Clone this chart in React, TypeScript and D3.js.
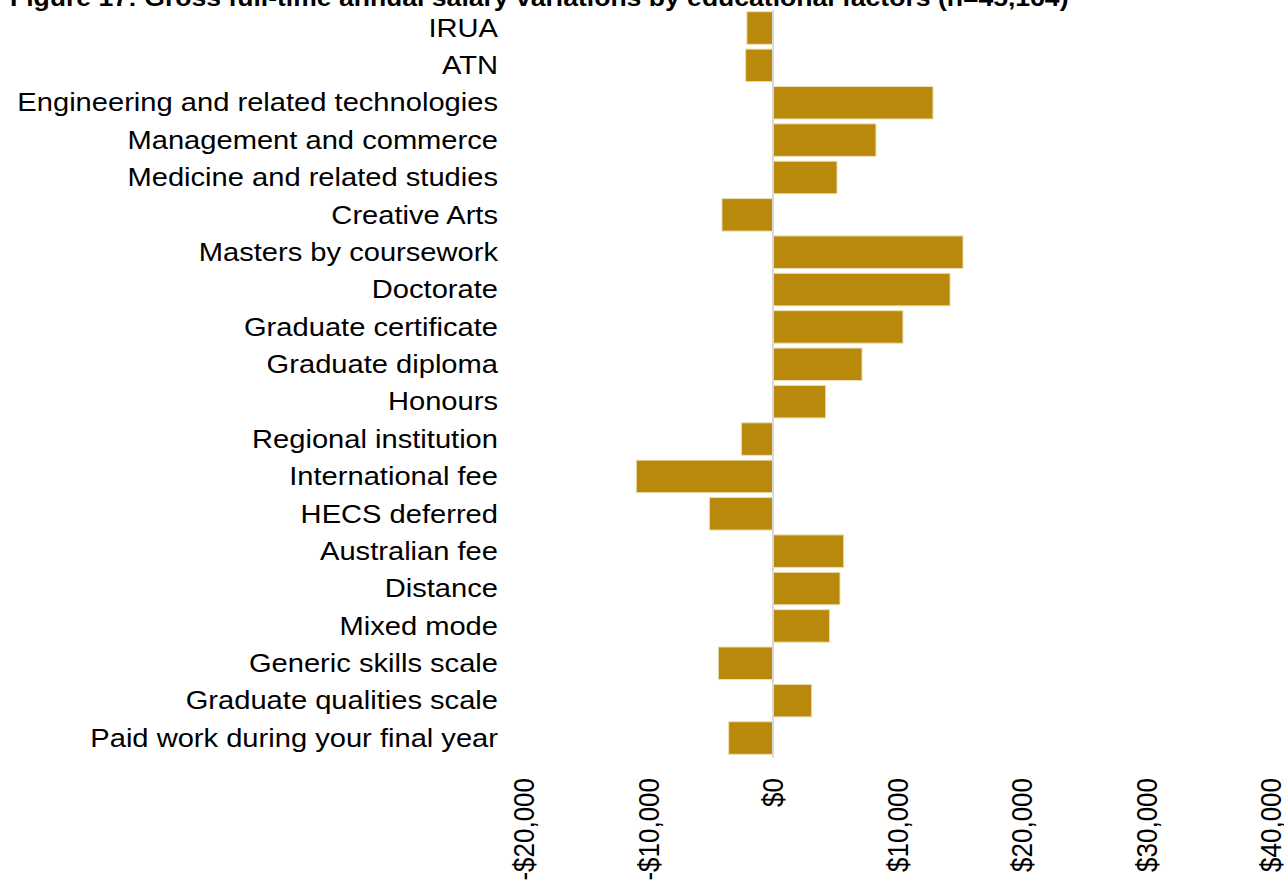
import React from "react";
import * as d3 from "d3";

const categories = [
  "IRUA",
  "ATN",
  "Engineering and related technologies",
  "Management and commerce",
  "Medicine and related studies",
  "Creative Arts",
  "Masters by coursework",
  "Doctorate",
  "Graduate certificate",
  "Graduate diploma",
  "Honours",
  "Regional institution",
  "International fee",
  "HECS deferred",
  "Australian fee",
  "Distance",
  "Mixed mode",
  "Generic skills scale",
  "Graduate qualities scale",
  "Paid work during your final year",
];

const salaryVariation = [
  -2100, -2200, 12850, 8270, 5140, -4100, 15260, 14220, 10440, 7150,
  4230, -2540, -10980, -5110, 5680, 5380, 4550, -4390, 3110, -3560,
];

const tickValues = [-20000, -10000, 0, 10000, 20000, 30000, 40000];

const title =
  "Figure 17: Gross full-time annual salary variations by educational factors (n=45,164)";

const W = 1284;
const H = 886;
const SX = 1.14;
const SX_LABEL = 1.165;

export default function App() {
  const x = d3.scaleLinear().domain([-20000, 40000]).range([524, 1271]);
  const y = d3
    .scaleBand<string>()
    .domain(categories)
    .range([9.3, 756.7])
    .paddingInner(0.13)
    .paddingOuter(0.065);

  const fmt = (v: number) =>
    (v < 0 ? "-$" : "$") + d3.format(",")(Math.abs(v));

  const font = "'Liberation Sans', Arial, sans-serif";

  return (
    <svg
      width={W}
      height={H}
      style={{ position: "absolute", left: 0, top: 0, background: "#fff" }}
      fontFamily={font}
    >
      <text
        transform={`translate(10,6) scale(${SX},1)`}
        fontSize={23.3}
        fontWeight="bold"
        fill="#000"
      >
        {title}
      </text>
      {categories.map((c, i) => {
        const v = salaryVariation[i];
        const x0 = x(Math.min(0, v));
        const x1 = x(Math.max(0, v));
        const cy = (y(c) as number) + y.bandwidth() / 2;
        return (
          <g key={c}>
            <rect
              x={x0}
              y={y(c)}
              width={x1 - x0}
              height={y.bandwidth()}
              fill="#B8890A"
              stroke="#eadfb6"
              strokeWidth={1}
            />
            <text
              transform={`translate(498,${cy}) scale(${SX_LABEL},1)`}
              dy="0.35em"
              textAnchor="end"
              fontSize={25}
              fill="#000"
            >
              {c}
            </text>
          </g>
        );
      })}
      <line
        x1={x(0)}
        x2={x(0)}
        y1={10}
        y2={758}
        stroke="#d9d9d9"
        strokeWidth={2}
      />
      {tickValues.map((t) => (
        <text
          key={t}
          transform={`translate(${x(t)},778) scale(${SX},1) rotate(-90)`}
          textAnchor="end"
          dy="0.35em"
          fontSize={26}
          fill="#000"
        >
          {fmt(t)}
        </text>
      ))}
    </svg>
  );
}
